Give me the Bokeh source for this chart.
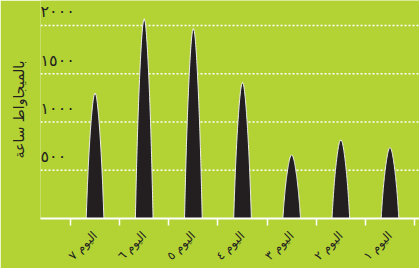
import numpy as np
from bokeh.plotting import figure
from bokeh.models import FixedTicker, ColumnDataSource
from bokeh.core.properties import value
from bokeh.embed import file_html
from bokeh.resources import INLINE

# data
days = ["اليوم ٧", "اليوم ٦", "اليوم ٥", "اليوم ٤", "اليوم ٣", "اليوم ٢", "اليوم ١"]
mwh = [1300, 2070, 1970, 1410, 660, 815, 735]
y_ticks = [500, 1000, 1500, 2000]
y_tick_labels = ["٥٠٠", "١٠٠٠", "١٥٠٠", "٢٠٠٠"]
y_title = "بالميجاواط ساعة"

GREEN = "#b3d335"
DARK = "#231f20"
FONT = "DejaVu Sans"

X0, X1 = -0.61, 7.10
p = figure(frame_width=379, frame_height=218, output_backend="svg", toolbar_location=None,
           x_range=(X0, X1), y_range=(0, 2259),
           min_border_left=40, min_border_right=0, min_border_top=0, min_border_bottom=50)
p.background_fill_color = GREEN
p.border_fill_color = GREEN
p.outline_line_color = None
p.grid.visible = False

# y axis used only for its title
yax = p.yaxis[0]
yax.ticker = FixedTicker(ticks=[])
yax.axis_line_color = None
yax.major_tick_line_color = None
yax.minor_tick_line_color = None
yax.major_label_text_font_size = "0px"
yax.axis_label = y_title
yax.axis_label_text_font = FONT
yax.axis_label_text_font_size = "14px"
yax.axis_label_text_font_style = "normal"
yax.axis_label_text_color = DARK
yax.axis_label_standoff = 14

# gridlines
for yv in y_ticks:
    p.line([X0, X1], [yv, yv], line_color="white", line_width=1.5, line_dash="2 2")

# spikes
centers = [i + 0.5 for i in range(len(days))]
xs, ys = [], []
t = np.linspace(0, 1, 60)
hw = 0.18 * (1 - 0.5 * t) * np.sqrt(1 - t ** 3)
for c, v in zip(centers, mwh):
    px = np.concatenate([c - hw, (c + hw)[::-1]])
    py = np.concatenate([v * t, (v * t)[::-1]])
    xs.append(list(px))
    ys.append(list(py))
p.patches(xs, ys, fill_color=DARK, line_color="#eeeeee", line_width=1)

# y tick labels inside the plot
src = ColumnDataSource(dict(x=[X0] * len(y_ticks), y=y_ticks, t=y_tick_labels))
p.text(x="x", y="y", text="t", source=src, text_font=value(FONT), text_font_size="16px",
       text_color=DARK, text_baseline="bottom", text_align="left", y_offset=-4)

# x axis
ax = p.xaxis[0]
ax.ticker = FixedTicker(ticks=centers, minor_ticks=list(range(len(days) + 1)))
ax.major_label_overrides = {c: d for c, d in zip(centers, days)}
ax.major_label_orientation = np.pi / 4
ax.major_label_text_font = FONT
ax.major_label_text_font_size = "12px"
ax.major_label_text_color = DARK
ax.major_tick_line_color = None
ax.minor_tick_line_color = "white"
ax.minor_tick_line_width = 1.5
ax.minor_tick_in = 0
ax.minor_tick_out = 7
ax.axis_line_color = "white"
ax.axis_line_width = 2
ax.major_label_standoff = 8

open("out.html", "w").write(file_html(p, INLINE))
